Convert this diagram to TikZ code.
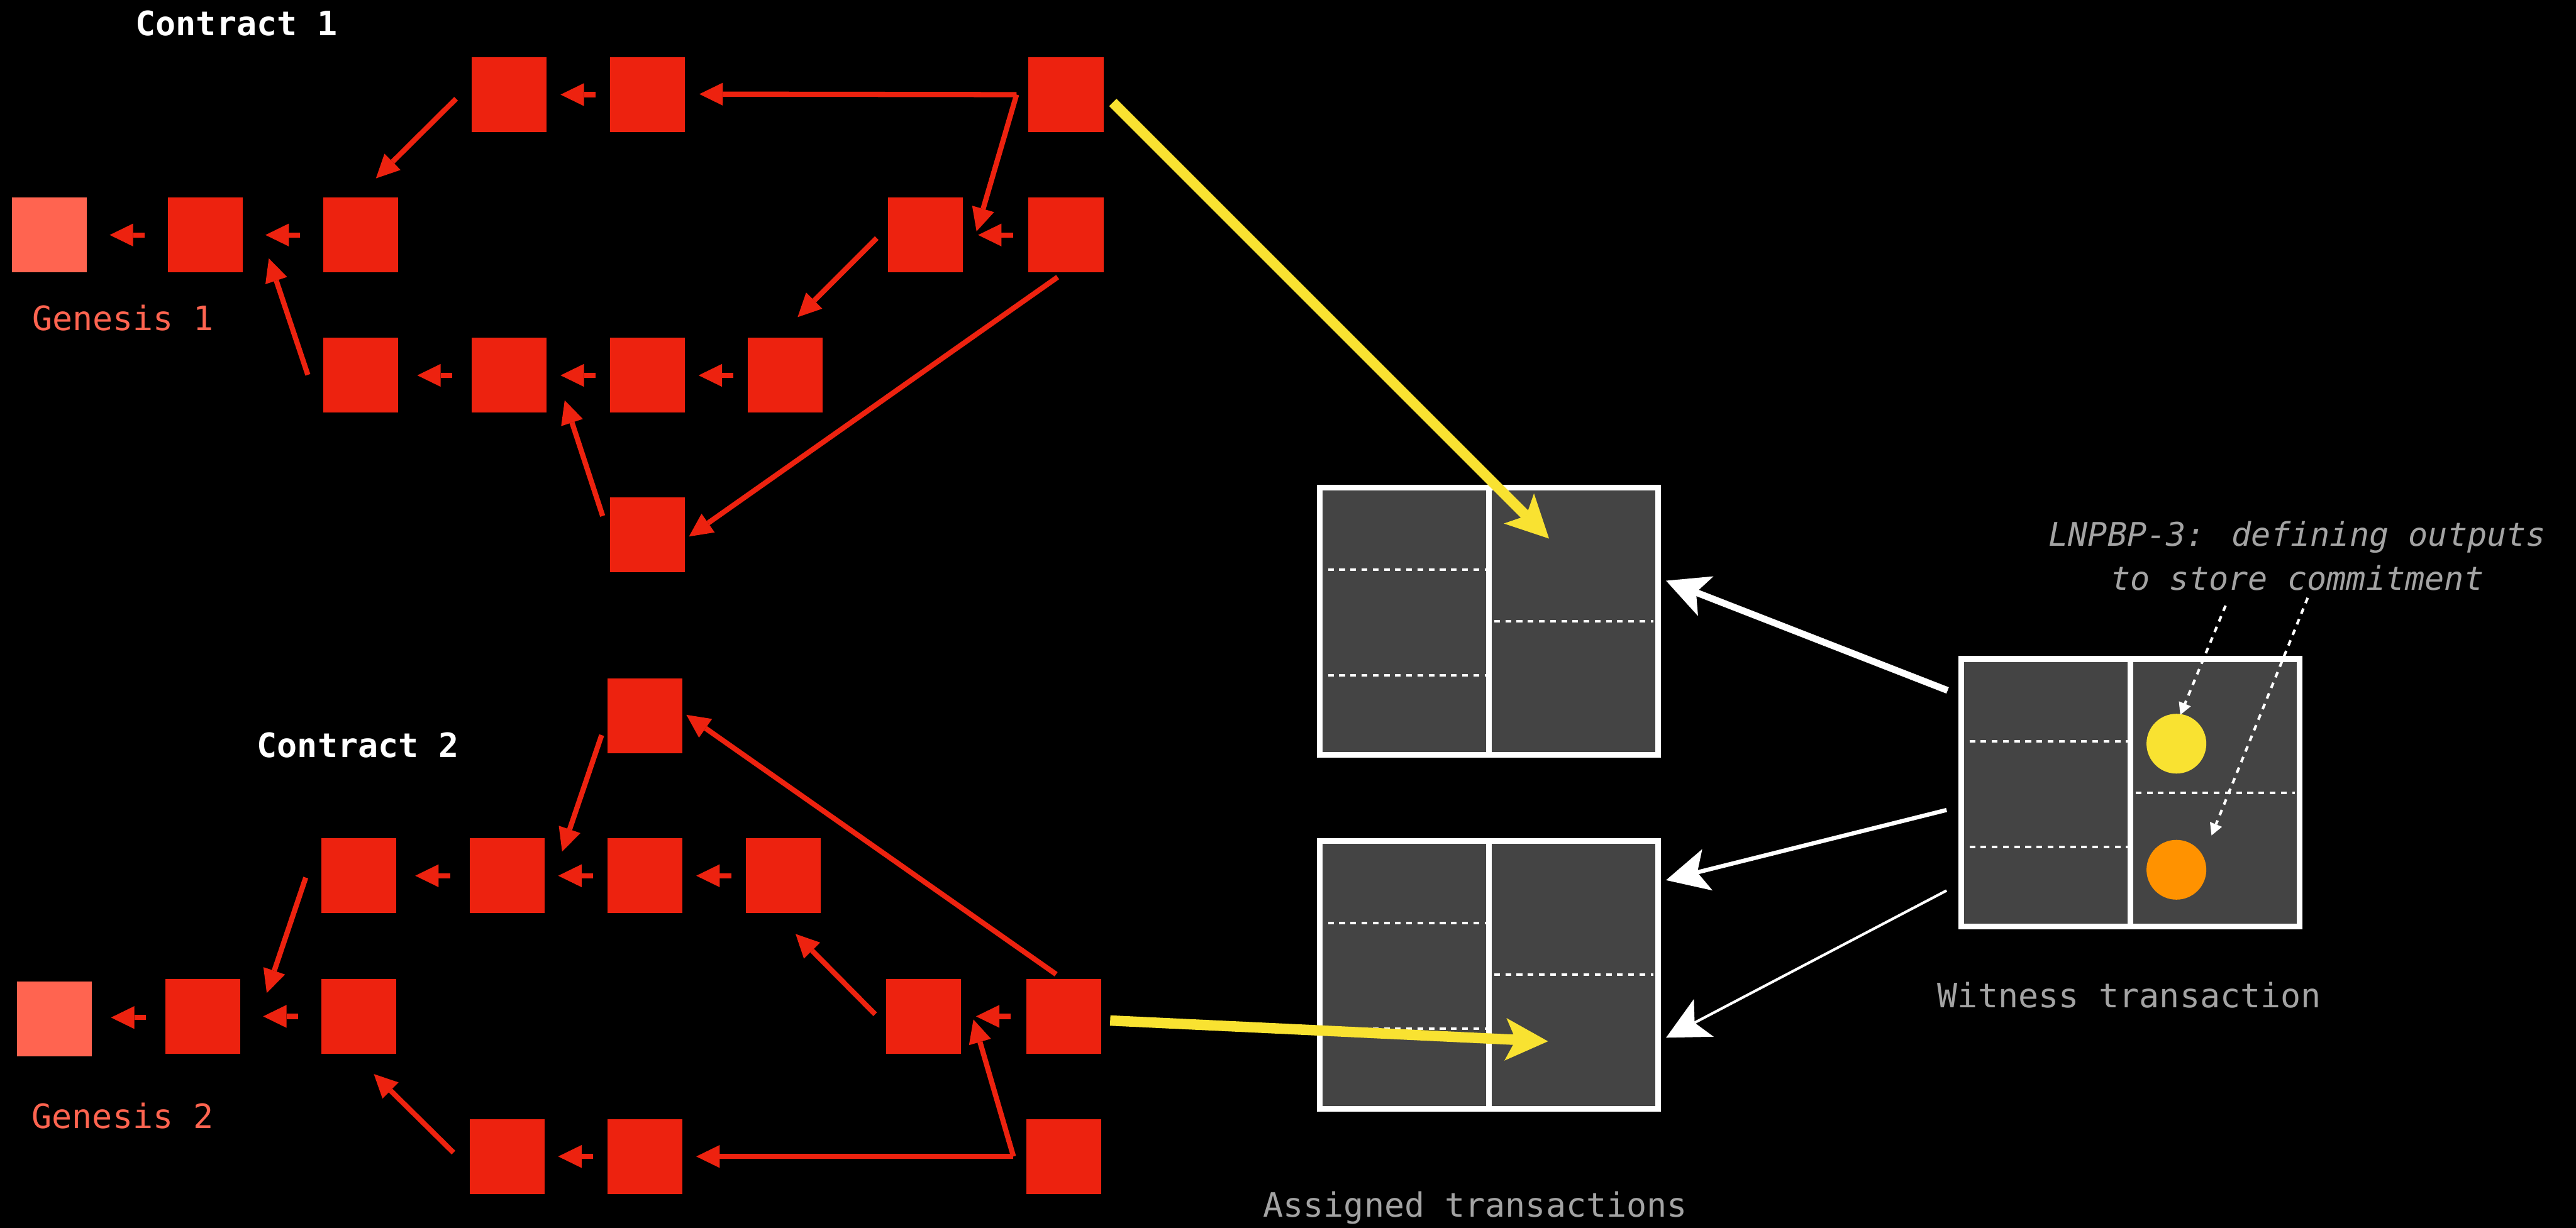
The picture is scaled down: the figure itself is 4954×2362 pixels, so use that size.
\documentclass[tikz,border=0pt]{standalone}
\usepackage{fontspec}
\newfontfamily\codefont{DejaVu Sans Mono}
\usetikzlibrary{arrows.meta,calc}

\definecolor{cred}{RGB}{237,34,15}
\definecolor{cgen}{RGB}{255,100,80}
\definecolor{cyel}{RGB}{249,226,49}
\definecolor{corg}{RGB}{255,146,0}
\definecolor{cbox}{RGB}{68,68,68}
\definecolor{cgray}{RGB}{163,163,163}

\tikzset{
  blk/.style={fill=cred, draw=none, minimum width=14.4mm, minimum height=14.4mm, inner sep=0pt, outer sep=0pt},
  genblk/.style={blk, fill=cgen},
  txbox/.style={fill=cbox, draw=white, line width=1.1mm, minimum width=65mm, minimum height=51.5mm, inner sep=0pt},
  divline/.style={draw=white, line width=1.1mm},
  dashline/.style={draw=white, line width=0.5mm, dash pattern=on 1.1mm off 1.05mm},
  lbl/.style={font=\codefont\fontsize{6.45mm}{8.4mm}\selectfont, inner sep=0pt, outer sep=0pt, anchor=base},
  notelbl/.style={lbl, text=cgray, font=\codefont\itshape\fontsize{6.27mm}{8.4mm}\selectfont},
  redarr/.style={draw=cred, line width=1mm, -{Triangle[length=4.5mm, width=4.4mm, line width=0pt]}},
  yelarr/.style={draw=cyel, line width=2mm, -{Stealth[length=8.2mm, width=8.2mm, inset=2mm, line width=0pt]}},
  whtarr/.style={draw=white, -{Stealth[length=8.2mm, width=8.2mm, inset=2mm, line width=0pt]}},
  dotarr/.style={draw=white, line width=0.5mm, dash pattern=on 1.1mm off 1.1mm, -{Triangle[length=2.3mm, width=2.5mm, line width=0pt]}},
  dot/.style={circle, minimum size=11.5mm, inner sep=0pt, outer sep=0pt, draw=none}
}

% short link between two neighbouring blocks of a row
\newcommand\shortlink[2]{\draw[redarr] ($(#1.west)!0.5!(#2.east)+(33,0)$) -- ($(#1.west)!0.5!(#2.east)+(-34,0)$);}

% transaction box with its column divider and output separators
\newcommand\txpanel[2]{%
  \node[txbox] (#1) at (#2) {};
  \draw[divline] (#1.north) -- (#1.south);
  \draw[dashline] ($(#1.west)+(21,-99)$) -- ($(#1.center)+(-5,-99)$);
  \draw[dashline] ($(#1.west)+(21,104)$) -- ($(#1.center)+(-5,104)$);
  \draw[dashline] ($(#1.center)+(10,0)$) -- ($(#1.east)+(-14,0)$);
}

\begin{document}
\begin{tikzpicture}[x=0.1mm, y=-0.1mm]
\fill[black] (0,0) rectangle (4954,2362);
\useasboundingbox (0,0) rectangle (4954,2362);

% ---------------- Contract 1 ----------------
\node[lbl, text=white, font=\codefont\bfseries\fontsize{6.45mm}{8.4mm}\selectfont] (c1title) at (455,68) {Contract 1};
\node[lbl, text=cgen] (g1label) at (236.5,635) {Genesis 1};

\node[genblk] (ag) at (95,452) {};
\node[blk] (ar1c1) at (395,452) {};
\node[blk] (ar1c2) at (694,452) {};
\node[blk] (ar0c3) at (979,182) {};
\node[blk] (ar0c4) at (1245,182) {};
\node[blk] (ar0c7) at (2050,182) {};
\node[blk] (ar1c6) at (1780,452) {};
\node[blk] (ar1c7) at (2050,452) {};
\node[blk] (ar2c2) at (694,722) {};
\node[blk] (ar2c3) at (979,722) {};
\node[blk] (ar2c4) at (1245,722) {};
\node[blk] (ar2c5) at (1510,722) {};
\node[blk] (ar3c4) at (1245,1028.5) {};

\shortlink{ar1c1}{ag}
\shortlink{ar1c2}{ar1c1}
\shortlink{ar0c4}{ar0c3}
\shortlink{ar1c7}{ar1c6}
\shortlink{ar2c3}{ar2c2}
\shortlink{ar2c4}{ar2c3}
\shortlink{ar2c5}{ar2c4}

\draw[redarr] ($(ar0c7.west)+(-23,0)$) -- ($(ar0c4.east)+(28,-1)$);
\draw[redarr] ($(ar0c7.west)+(-23,0)$) -- ($(ar1c6.east)+(26,-7)$);
\draw[redarr] ($(ar0c3.west)+(-30,8)$) -- ($(ar1c2.north)+(29,-37)$);
\draw[redarr] ($(ar2c2.west)+(-30,-1)$) -- ($(ar1c1.east)+(50,45)$);
\draw[redarr] ($(ar3c4.west)+(-14,-36)$) -- ($(ar2c3.east)+(35,48)$);
\draw[redarr] ($(ar1c6.west)+(-22,6)$) -- ($(ar2c5.north)+(24,-40)$);
\draw[redarr] ($(ar1c7.south)+(-16,9)$) -- ($(ar3c4.east)+(8,3.5)$);

% ---------------- Contract 2 ----------------
\node[lbl, text=white, font=\codefont\bfseries\fontsize{6.45mm}{8.4mm}\selectfont] (c2title) at (688.5,1457) {Contract 2};
\node[lbl, text=cgen] (g2label) at (236,2170) {Genesis 2};

\node[genblk] (bg) at (105,1959.5) {};
\node[blk] (br2c1) at (390,1955) {};
\node[blk] (br2c2) at (690,1955) {};
\node[blk] (br0c4) at (1240,1377.5) {};
\node[blk] (br1c2) at (690,1684.5) {};
\node[blk] (br1c3) at (975,1684.5) {};
\node[blk] (br1c4) at (1240,1684.5) {};
\node[blk] (br1c5) at (1506,1684.5) {};
\node[blk] (br2c6) at (1776,1955) {};
\node[blk] (br2c7) at (2046,1955) {};
\node[blk] (br3c3) at (975,2224.5) {};
\node[blk] (br3c4) at (1240,2224.5) {};
\node[blk] (br3c7) at (2046,2224.5) {};

\shortlink{br2c1}{bg}
\shortlink{br2c2}{br2c1}
\shortlink{br1c3}{br1c2}
\shortlink{br1c4}{br1c3}
\shortlink{br1c5}{br1c4}
\shortlink{br2c7}{br2c6}
\shortlink{br3c4}{br3c3}

\draw[redarr] ($(br1c2.west)+(-30,3.5)$) -- ($(br2c1.north east)+(51,27)$);
\draw[redarr] ($(br0c4.west)+(-11,36.5)$) -- ($(br1c3.east)+(34,-46.5)$);
\draw[redarr] ($(br2c7.north)+(-15,-9)$) -- ($(br0c4.east)+(8,-2.5)$);
\draw[redarr] ($(br2c6.west)+(-21,-4)$) -- ($(br1c5.south)+(24,40)$);
\draw[redarr] ($(br3c3.west)+(-31,-7.5)$) -- ($(br2c2.south)+(29,39)$);
\draw[redarr] ($(br3c7.west)+(-25,0)$) -- ($(br2c6.east)+(24,6)$);
\draw[redarr] ($(br3c7.west)+(-25,0)$) -- ($(br3c4.east)+(27,0)$);

% ---------------- Transactions ----------------
\txpanel{txa}{2863.5,1195}
\txpanel{txb}{2863.5,1875}
\txpanel{wit}{4097,1525}

\node[dot, fill=cyel] (ydot) at ($(wit.center)+(88.5,-94.5)$) {};
\node[dot, fill=corg] (odot) at ($(wit.center)+(88.5,148)$) {};

\node[lbl, text=cgray] (assigned) at (2837,2341) {Assigned transactions};
\node[lbl, text=cgray] (witlabel) at (4095,1938) {Witness transaction};
\node[notelbl] (note1) at (4418,1051) {LNPBP-3: defining outputs};
\node[notelbl] (note2) at (4418,1135) {to store commitment};

% commitments from the contract states to the assigned transactions
\draw[yelarr] ($(ar0c7.east)+(18,15)$) -- ($(txa.center)+(115.5,-159)$);
\draw[yelarr] ($(br2c7.east)+(17,8)$) -- ($(txb.center)+(113.5,128)$);

% witness transaction spends the assigned outputs
\draw[whtarr, line width=1.3mm] ($(wit.west)+(-21,-197)$) -- ($(txa.east)+(10,-78)$);
\draw[whtarr, line width=0.8mm] ($(wit.west)+(-23,33)$) -- ($(txb.east)+(10,-182)$);
\draw[whtarr, line width=0.5mm] ($(wit.west)+(-23,188)$) -- ($(txb.east)+(10,121)$);

% annotation pointers
\draw[dotarr] ($(note2.base)+(-138,30)$) -- ($(ydot.center)+(7.5,-55.5)$);
\draw[dotarr] ($(note2.base)+(20,15)$) -- ($(odot.center)+(67.5,-66)$);
\end{tikzpicture}
\end{document}
